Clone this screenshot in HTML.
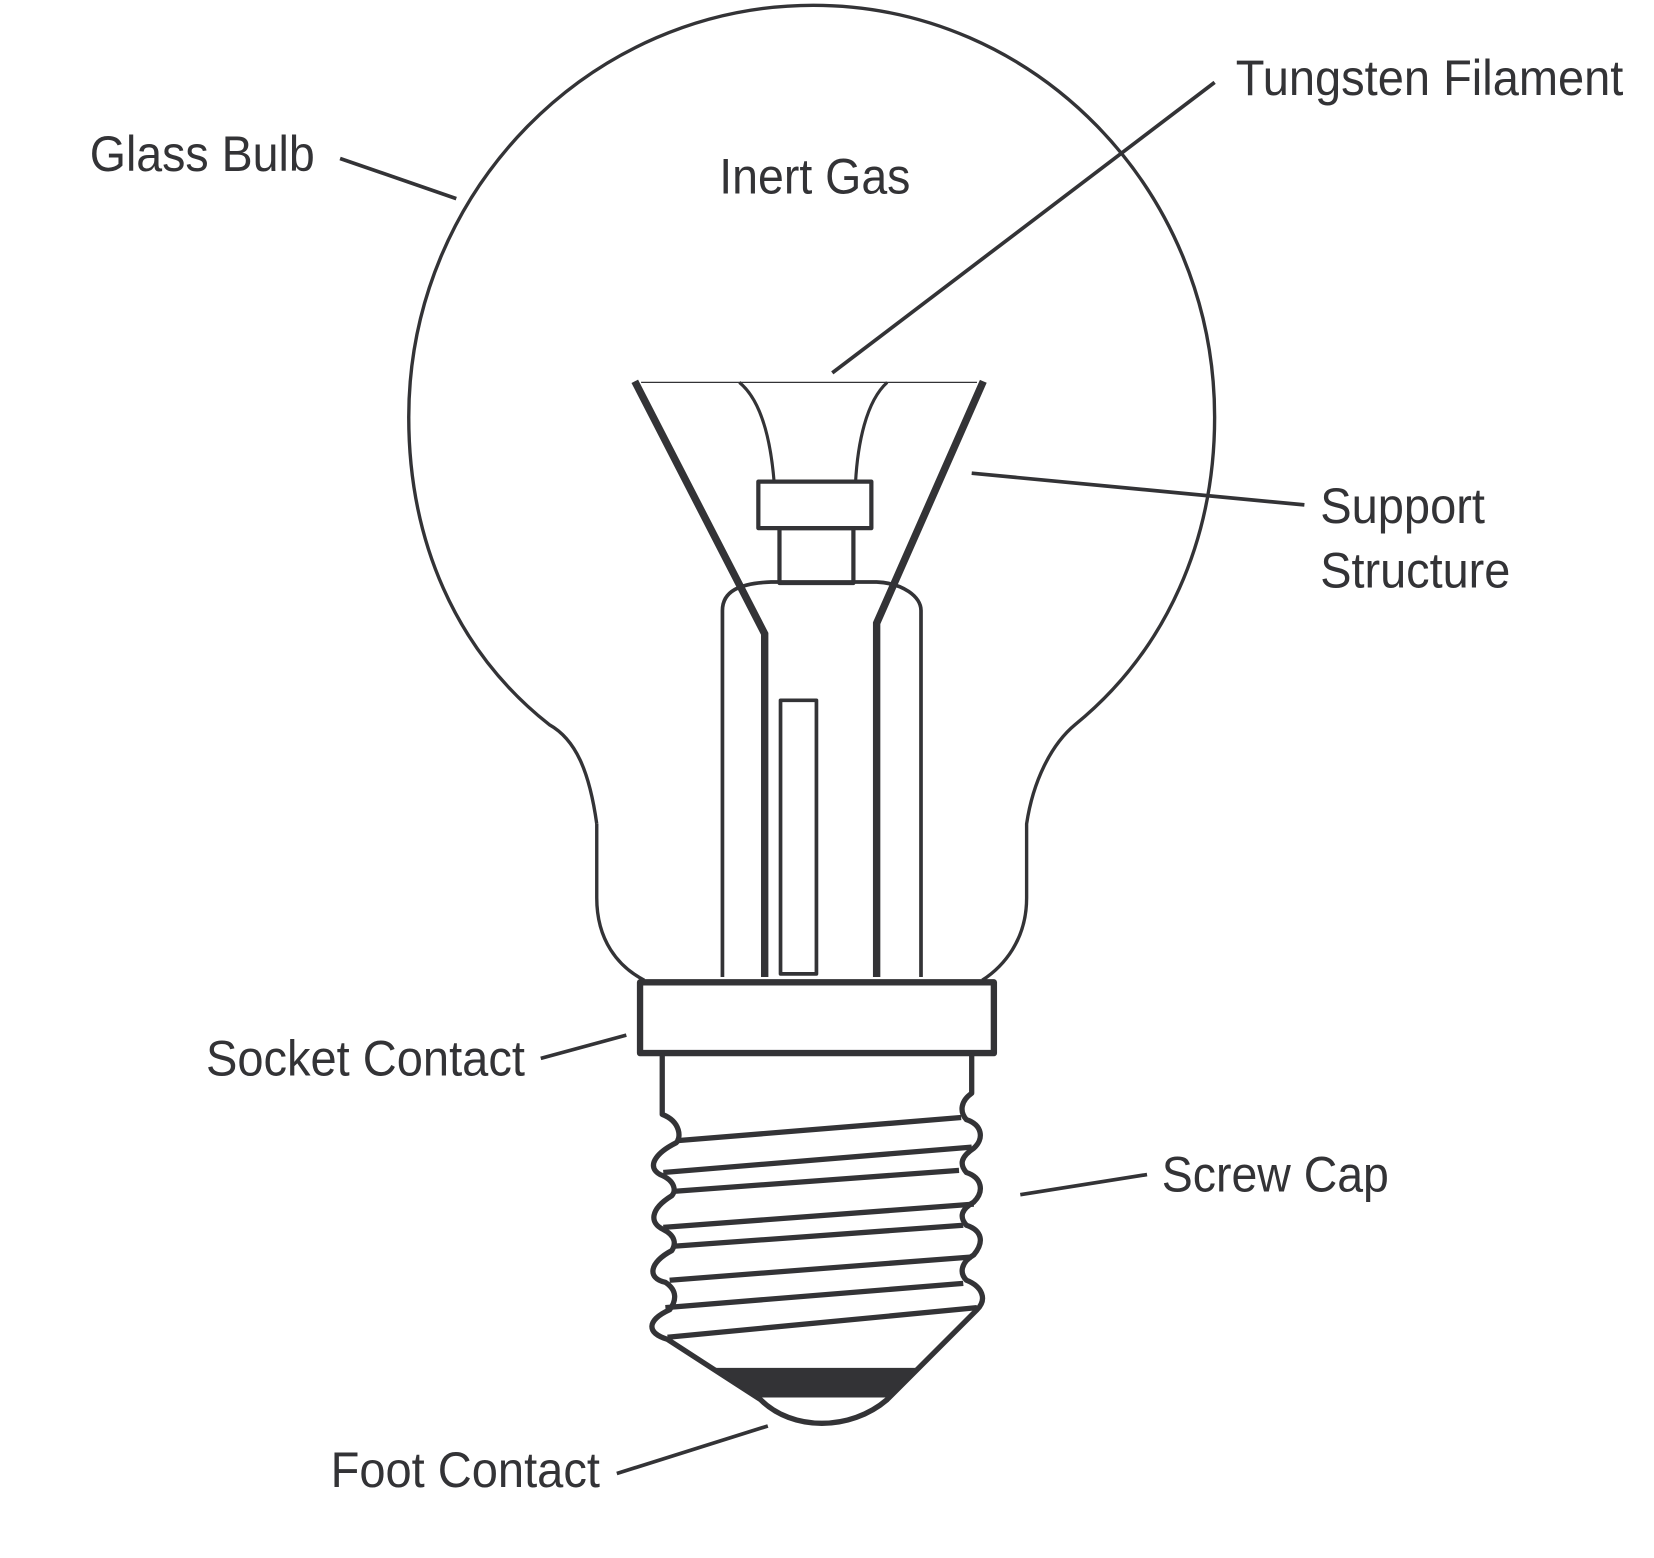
<!DOCTYPE html>
<html><head><meta charset="utf-8"><style>
html,body{margin:0;padding:0;background:#fff;}
svg{display:block;}
text{font-family:"Liberation Sans",Arial,sans-serif;fill:#333336;font-size:47px;}
</style></head><body>
<svg width="1654" height="1558" viewBox="0 0 1566 1475" preserveAspectRatio="none" xmlns="http://www.w3.org/2000/svg">
<g fill="none" stroke="#333336" stroke-linecap="butt" stroke-linejoin="round">
  <path stroke-width="3.2" d="M565,780 C558,730 545,700 520,686 C430,615 387,510 387,395 C387,180 560,5 770,5 C980,5 1150,180 1150,395 C1150,510 1105,615 1018,686 C995,705 978,740 972,780 L972,850 C972,890 950,915 930,928"/>
  <path stroke-width="3.2" d="M565,780 L565,850 C565,890 585,915 610,928"/>
  <line x1="607" y1="362" x2="925" y2="362" stroke-width="1.2"/>
  <path stroke-width="7" stroke-linejoin="miter" d="M601,361 L724,600 L724,925"/>
  <path stroke-width="7" stroke-linejoin="miter" d="M931,361 L830,590 L830,925"/>
  <path stroke-width="3" d="M700,362 C722,380 730,420 733,457"/>
  <path stroke-width="3" d="M840,362 C820,380 812,420 810,457"/>
  <rect x="718" y="456" width="107" height="44" stroke-width="4"/>
  <rect x="738" y="500" width="70" height="52" stroke-width="4"/>
  <path stroke-width="3.5" d="M684,925 L684,578 C684,560 700,552 730,551 L830,551 C855,552 872,565 872,578 L872,925"/>
  <rect x="739" y="663" width="34" height="259" stroke-width="3.5"/>
  <rect x="606" y="930" width="335" height="67" stroke-width="6" fill="#fff"/>
  <path stroke-width="5" d="M627,997 L627,1055 C645,1062 645,1078 640,1082 C620,1092 612,1105 625,1112 C640,1118 640,1128 636,1132 C615,1145 615,1158 628,1164 C640,1170 640,1178 636,1184 C615,1195 612,1210 630,1214 C642,1222 640,1232 634,1240 C612,1250 612,1262 632,1268 L720,1325 C750,1355 805,1355 840,1325 L925,1240 C935,1230 930,1218 915,1212 C908,1205 910,1195 922,1188 C932,1176 930,1165 915,1160 C908,1152 910,1145 922,1138 C932,1128 930,1115 915,1110 C908,1102 910,1095 922,1087 C932,1078 930,1065 915,1060 C908,1052 910,1042 920,1035 L920,997"/>
  <g stroke-width="5">
    <line x1="640" y1="1080" x2="910" y2="1058"/>
    <line x1="628" y1="1110" x2="920" y2="1086"/>
    <line x1="636" y1="1128" x2="908" y2="1108"/>
    <line x1="628" y1="1162" x2="922" y2="1140"/>
    <line x1="636" y1="1180" x2="912" y2="1160"/>
    <line x1="634" y1="1212" x2="920" y2="1190"/>
    <line x1="630" y1="1238" x2="912" y2="1215"/>
    <line x1="632" y1="1266" x2="925" y2="1238"/>
  </g>
  <polygon points="675,1295 870,1295 842,1323 717,1323" fill="#333336" stroke="none"/>
  <g stroke-width="3.5">
    <line x1="322" y1="150" x2="432" y2="188"/>
    <line x1="1150" y1="78" x2="788" y2="353"/>
    <line x1="920" y1="448" x2="1235" y2="478"/>
    <line x1="512" y1="1002" x2="593" y2="980"/>
    <line x1="966" y1="1131" x2="1086" y2="1112"/>
    <line x1="584" y1="1395" x2="727" y2="1350"/>
  </g>
</g>
<text x="85" y="162" textLength="213" lengthAdjust="spacingAndGlyphs">Glass Bulb</text>
<text x="681" y="183" textLength="181" lengthAdjust="spacingAndGlyphs">Inert Gas</text>
<text x="1170" y="90" textLength="367" lengthAdjust="spacingAndGlyphs">Tungsten Filament</text>
<text x="1250" y="495" textLength="156" lengthAdjust="spacingAndGlyphs">Support</text>
<text x="1250" y="556" textLength="180" lengthAdjust="spacingAndGlyphs">Structure</text>
<text x="195" y="1018" textLength="302" lengthAdjust="spacingAndGlyphs">Socket Contact</text>
<text x="1100" y="1128" textLength="215" lengthAdjust="spacingAndGlyphs">Screw Cap</text>
<text x="313" y="1408" textLength="255" lengthAdjust="spacingAndGlyphs">Foot Contact</text>
</svg>
</body></html>
